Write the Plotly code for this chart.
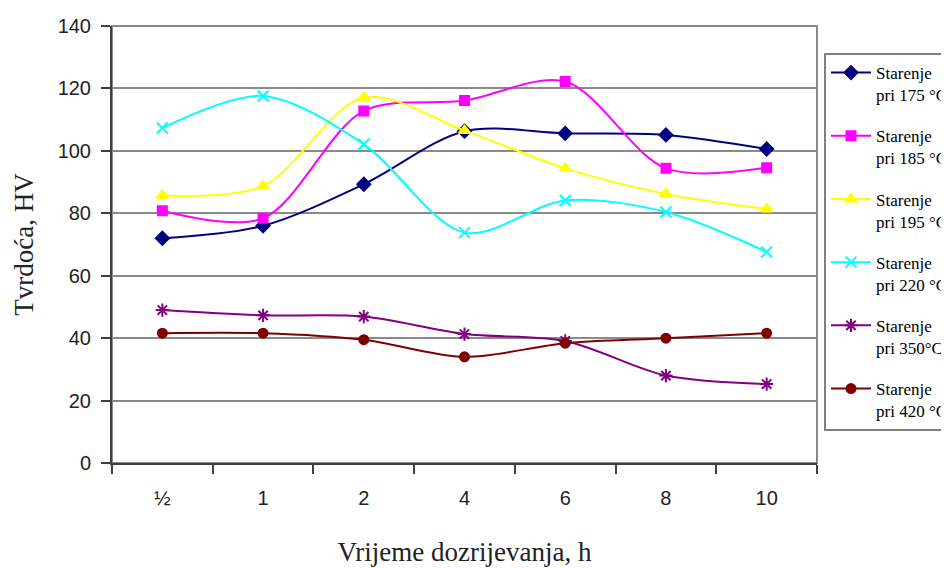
import plotly.graph_objects as go

categories = ["½", "1", "2", "4", "6", "8", "10"]

s175 = [72.0, 76.0, 89.3, 106.3, 105.6, 105.1, 100.6]
s185 = [80.8, 78.4, 112.8, 116.1, 122.2, 94.4, 94.6]
s195 = [85.7, 88.8, 117.1, 106.5, 94.4, 86.2, 81.4]
s220 = [107.3, 117.6, 102.1, 73.8, 84.1, 80.4, 67.6]
s350 = [49.0, 47.3, 46.9, 41.3, 39.1, 28.0, 25.3]
s420 = [41.6, 41.6, 39.5, 34.0, 38.4, 40.0, 41.6]

series_names = ["Starenje<br>pri 175 °C", "Starenje<br>pri 185 °C", "Starenje<br>pri 195 °C",
                "Starenje<br>pri 220 °C", "Starenje<br>pri 350°C", "Starenje<br>pri 420 °C"]
series_values = [s175, s185, s195, s220, s350, s420]
colors = ["#000080", "#FF00FF", "#FFFF00", "#00FFFF", "#800080", "#800000"]
symbols = ["diamond", "square", "triangle-up", "x-thin-open", "asterisk-open", "circle"]
sizes = [10, 9, 10, 11, 11, 9]

# page body has an 8px margin, so the figure is sized to the visible area
W, H = 941, 560
L, T, R_EDGE, B_EDGE = 104, 18, 809, 455

fig = go.Figure()
for i, (name, vals) in enumerate(zip(series_names, series_values)):
    fig.add_trace(go.Scatter(
        x=categories, y=vals, name=name, mode="lines+markers",
        line=dict(color=colors[i], width=2, shape="spline", smoothing=0.9),
        marker=dict(symbol=symbols[i], size=sizes[i], color=colors[i],
                    line=dict(color=colors[i], width=2)),
        legendgroup=str(i),
    ))

fig.update_layout(
    width=W, height=H,
    margin=dict(l=L, r=W - R_EDGE, t=T, b=H - B_EDGE, autoexpand=False),
    paper_bgcolor="white", plot_bgcolor="white",
    showlegend=True,
    legend=dict(
        x=(816 - L) / (R_EDGE - L), xanchor="left",
        y=1 - (45 - T) / (B_EDGE - T), yanchor="top",
        bordercolor="#808080", borderwidth=2, bgcolor="white",
        font=dict(family="Liberation Serif", size=17, color="black"),
        traceorder="grouped", tracegroupgap=16, itemwidth=40, valign="top",
    ),
    xaxis=dict(
        type="category", range=[-0.5, 6.5], tickson="boundaries",
        ticks="outside", ticklen=9, tickcolor="#404040", tickwidth=1.5,
        showline=True, linecolor="#404040", linewidth=2,
        showgrid=False, zeroline=False,
        tickfont=dict(family="Liberation Sans", size=20, color="#222"),
        ticklabelstandoff=16,
        title=dict(text="Vrijeme dozrijevanja, h", standoff=34,
                   font=dict(family="Liberation Serif", size=27, color="#222")),
    ),
    yaxis=dict(
        range=[0, 140], dtick=20, tick0=0,
        ticks="outside", ticklen=9, tickcolor="#404040", tickwidth=1.5,
        showline=True, linecolor="#404040", linewidth=2,
        showgrid=True, gridcolor="#8a8a8a", gridwidth=2, zeroline=False,
        tickfont=dict(family="Liberation Sans", size=20, color="#222"),
        ticklabelstandoff=6,
        title=dict(text="Tvrdoća, HV", standoff=16,
                   font=dict(family="Liberation Serif", size=27, color="#222")),
    ),
    shapes=[dict(type="rect", xref="paper", yref="paper", x0=0, x1=1, y0=0, y1=1,
                 line=dict(color="#8a8a8a", width=2), layer="below")],
)

fig.write_html("out.html")
